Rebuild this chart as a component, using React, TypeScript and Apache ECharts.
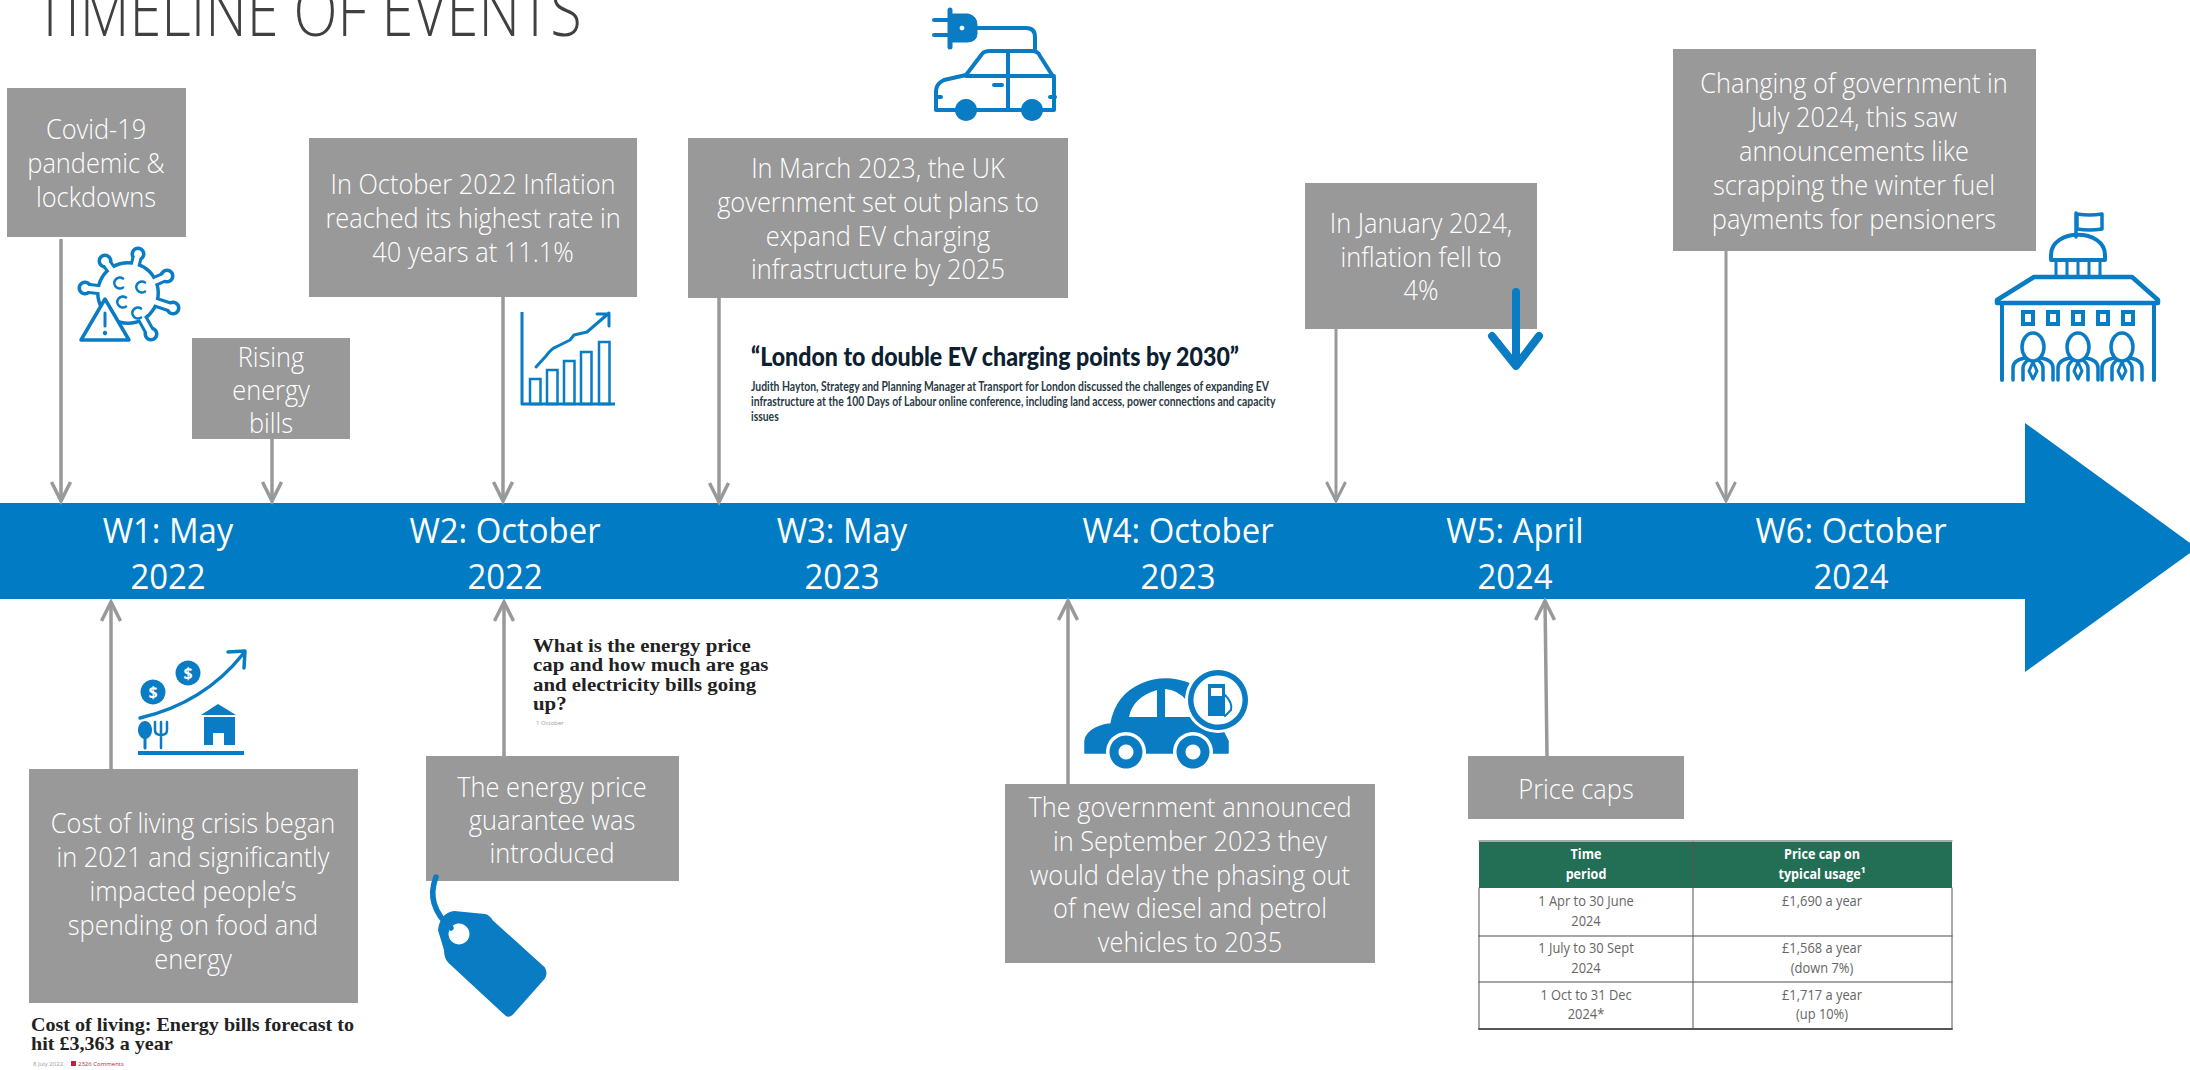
import React, { useEffect, useRef } from "react";
import * as echarts from "echarts";

const titleText = "TIMELINE OF EVENTS";
const waveLabels = [
  ["W1: May", "2022"],
  ["W2: October", "2022"],
  ["W3: May", "2023"],
  ["W4: October", "2023"],
  ["W5: April", "2024"],
  ["W6: October", "2024"],
];
const covidLines = ["Covid-19", "pandemic &", "lockdowns"];
const risingLines = ["Rising", "energy", "bills"];
const inflationLines = ["In October 2022 Inflation", "reached its highest rate in", "40 years at 11.1%"];
const evLines = ["In March 2023, the UK", "government set out plans to", "expand EV charging", "infrastructure by 2025"];
const januaryLines = ["In January 2024,", "inflation fell to", "4%"];
const changeLines = ["Changing of government in", "July 2024, this saw", "announcements like", "scrapping the winter fuel", "payments for pensioners"];
const costLines = ["Cost of living crisis began", "in 2021 and significantly", "impacted people’s", "spending on food and", "energy"];
const guaranteeLines = ["The energy price", "guarantee was", "introduced"];
const delayLines = ["The government announced", "in September 2023 they", "would delay the phasing out", "of new diesel and petrol", "vehicles to 2035"];
const priceCapLines = ["Price caps"];
const costHeadline = ["Cost of living: Energy bills forecast to", "hit £3,363 a year"];
const costDate = "8 July 2022 ·";
const costComments = "2326 Comments";
const capHeadline = ["What is the energy price", "cap and how much are gas", "and electricity bills going", "up?"];
const capDate = "1 October";
const londonQuote = "“London to double EV charging points by 2030”";
const londonBody = [
  "Judith Hayton, Strategy and Planning Manager at Transport for London discussed the challenges of expanding EV",
  "infrastructure at the 100 Days of Labour online conference, including land access, power connections and capacity",
  "issues",
];
const tableHeaderLeft = ["Time", "period"];
const tableHeaderRight = ["Price cap on", "typical usage¹"];
const tableLeft = [["1 Apr to 30 June", "2024"], ["1 July to 30 Sept", "2024"], ["1 Oct to 31 Dec", "2024*"]];
const tableRight = [["£1,690 a year"], ["£1,568 a year", "(down 7%)"], ["£1,717 a year", "(up 10%)"]];

const BLUE = "#0A7CC4";
const BAND = "#007BC4";
const GREY = "#999999";
const SANS = "'Open Sans'";

let shapeId = 0;
function path(d: string, style: any, z = 5) {
  const name = "ic" + shapeId++;
  echarts.graphic.registerShape(name, echarts.graphic.extendPath(d, {}));
  return { type: name, z, style: { fill: "none", stroke: BLUE, lineWidth: 3.5, lineCap: "round", lineJoin: "round", ...style } };
}
function text(t: string, x: number, y: number, o: any = {}) {
  const { k = 1, size = 25, weight = 300, color = "#fff", font = SANS, align = "center", z = 10 } = o;
  return {
    type: "text", x, y, scaleX: k, z,
    style: { text: t, x: 0, y: 0, fill: color, font: `${weight} ${size}px ${font}`, align, verticalAlign: "middle", textAlign: align, textVerticalAlign: "middle" },
  };
}
function lines(arr: string[], cx: number, ys: number[], o: any = {}) {
  return arr.map((t, i) => text(t, cx, ys[i], o));
}
function box(x0: number, y0: number, x1: number, y1: number) {
  return { type: "rect", z: 3, shape: { x: x0, y: y0, width: x1 - x0, height: y1 - y0 }, style: { fill: GREY } };
}
function arrow(x0: number, y0: number, x1: number, y1: number, w = 3.5) {
  const dir = y1 > y0 ? -1 : 1;
  const st = { stroke: GREY, lineWidth: w, fill: "none" };
  return [
    { type: "line", z: 2, shape: { x1: x0, y1: y0, x2: x1, y2: y1 }, style: st },
    { type: "polyline", z: 2, shape: { points: [[x1 - 9.5, y1 + dir * 19], [x1, y1], [x1 + 9.5, y1 + dir * 19]] }, style: st },
  ];
}
const ln = (x1: number, y1: number, x2: number, y2: number, stroke = BLUE, lineWidth = 3.5, z = 5) => ({
  type: "line", z, shape: { x1, y1, x2, y2 }, style: { stroke, lineWidth, lineCap: "round" },
});
const circ = (cx: number, cy: number, r: number, fill: string, z = 5, extra: any = {}) => ({
  type: "circle", z, shape: { cx, cy, r }, style: { fill, ...extra },
});
const ell = (cx: number, cy: number, rx: number, ry: number, style: any, z = 5) => ({
  type: "ellipse", z, shape: { cx, cy, rx, ry }, style,
});
const rct = (x: number, y: number, width: number, height: number, fill: string, z = 5) => ({
  type: "rect", z, shape: { x, y, width, height }, style: { fill },
});

function covidIcon() {
  const c = [128, 293];
  const ends = [[138, 254], [105, 261], [167, 276], [173, 308], [151, 334], [85, 288]];
  const out: any[] = [];
  ends.forEach(([x, y]) => {
    out.push(ln(c[0], c[1], x, y, BLUE, 11, 5), circ(x, y, 7.5, BLUE, 5));
  });
  out.push(circ(c[0], c[1], 32, BLUE, 5));
  ends.forEach(([x, y]) => {
    out.push(ln(c[0], c[1], x, y, "#fff", 5, 6), circ(x, y, 4, "#fff", 6));
  });
  out.push(circ(c[0], c[1], 28.5, "#fff", 6));
  [[120, 283], [142, 287], [123, 302], [138, 313]].forEach(([x, y]) => {
    out.push({ ...path(`M${x + 3},${y - 4.5}A5.5 5.5 0 1 0 ${x + 3},${y + 4.5}`, { lineWidth: 2.6 }), z: 7 });
  });
  out.push({ type: "polygon", z: 8, shape: { points: [[81, 340], [105, 299], [129, 340]] }, style: { fill: "#fff", stroke: BLUE, lineWidth: 3.5, lineJoin: "round" } });
  out.push(ln(105, 313, 105, 326, BLUE, 3, 9), circ(105, 333, 2.2, BLUE, 9));
  return out;
}
function growthIcon() {
  const out: any[] = [path("M522,312V404H615", { lineWidth: 3, lineCap: "butt" })];
  [[530, 379], [547, 370], [564, 361], [581, 352], [599, 342]].forEach(([x, y]) => {
    out.push({ type: "rect", z: 5, shape: { x, y, width: 10.5, height: 404 - y }, style: { fill: "none", stroke: BLUE, lineWidth: 2.5 } });
  });
  out.push(path("M536,367L546,356Q552,348 556,347L570,340L574,335L587,332L609,313M597,314H609V326", { lineWidth: 3 }));
  return out;
}
function evIcon() {
  return [
    path("M950,10V47", { lineWidth: 5 }),
    path("M934,20H950M934,35H950", { lineWidth: 4 }),
    path("M950,14H968Q977,16 977,25V34Q977,41 968,42H950Z", { fill: BLUE, lineWidth: 1 }),
    circ(962, 28, 2.4, "#fff", 6),
    path("M977,28H1026Q1035,28 1035,37V49", { lineWidth: 4 }),
    path("M936,110V91Q936,84 944,80L966,75L982,54Q984,51 990,51H1032Q1038,51 1040,56L1054,78V110H936", { lineWidth: 4 }),
    path("M966,76H1054M1008,51V110", { lineWidth: 4 }),
    path("M994,85H1002M936,97H941M1050,97H1055", { lineWidth: 4 }),
    circ(966, 110, 11, BLUE, 6),
    circ(1032, 110, 11, BLUE, 6),
  ];
}
function downIcon() {
  return [path("M1516,292V365M1492,336L1516,366L1539,336", { lineWidth: 8 }, 12)];
}
function govIcon() {
  const out: any[] = [
    path("M2076,237V213", { lineWidth: 3.5 }),
    path("M2077,214Q2090,216 2102,214V229Q2090,231 2077,229Z", { lineWidth: 3.5 }),
    path("M2051,260V255C2051,228 2105,228 2105,255V260Z", { lineWidth: 4 }),
    path("M2056,262V276M2067,262V276M2078,262V276M2089,262V276M2100,262V276", { lineWidth: 3 }),
    path("M2034,277H2132L2158,300V303H1997V300Z", { lineWidth: 4.5 }),
    path("M2002,303V380M2154,303V380", { lineWidth: 4 }),
  ];
  [2028, 2053, 2078, 2103, 2128].forEach((x) => {
    out.push({ type: "rect", z: 5, shape: { x: x - 5, y: 312, width: 10, height: 12 }, style: { fill: "none", stroke: BLUE, lineWidth: 4 } });
  });
  [2033, 2078, 2122].forEach((x) => {
    out.push(ell(x, 347, 11, 14, { fill: "none", stroke: BLUE, lineWidth: 3.5 }));
    out.push(path(`M${x - 20},380V368Q${x - 20},360 ${x - 8},358M${x + 20},380V368Q${x + 20},360 ${x + 8},358M${x - 10},380V368Q${x - 10},364 ${x - 5},360M${x + 10},380V368Q${x + 10},364 ${x + 5},360`, { lineWidth: 3.5 }));
    out.push(path(`M${x},362L${x + 4},371L${x},379L${x - 4},371Z`, { lineWidth: 3 }));
  });
  return out;
}
function livingIcon() {
  const out: any[] = [
    path("M140,718Q204,703 243,654M228,652L245,651L244,668", { lineWidth: 3.5 }),
    circ(153, 692, 12.5, BLUE),
    circ(188, 673, 12.5, BLUE),
    text("$", 153, 692, { size: 16, weight: 700, z: 6 }),
    text("$", 188, 673, { size: 16, weight: 700, z: 6 }),
    { type: "polygon", z: 5, shape: { points: [[201, 715], [218, 704], [236, 715]] }, style: { fill: BLUE } },
    rct(204, 717, 31, 28, BLUE),
    rct(213, 733, 11, 12, "#fff", 6),
    rct(138, 751, 106, 4, BLUE),
    ell(145, 730, 7, 9, { fill: BLUE }),
    ln(145, 735, 145, 748, BLUE, 3),
    path("M155,722V730Q155,735 161,735Q167,735 167,730V722M161,722V748", { lineWidth: 2.5 }),
  ];
  return out;
}
function tagIcon() {
  return [
    path("M454,912L485,915Q489,916 492,921L544,968Q547,973 544,978L512,1014Q508,1018 504,1013L449,962Q445,958 445,950L439,930Q441,914 454,912Z", { fill: BLUE, stroke: BLUE, lineWidth: 2 }),
    circ(459, 934, 10.5, "#fff", 6),
    path("M436,877Q425,905 451,928", { lineWidth: 5.5 }, 7),
  ];
}
function fuelIcon() {
  return [
    path("M1085,753V741Q1086,733 1096,728Q1105,724 1111,724Q1116,695 1142,684Q1165,674 1190,684L1205,722L1224,733L1228,741V753Z", { fill: BLUE, lineWidth: 1.5 }),
    path("M1129,717Q1133,697 1157,690V717Z", { fill: "#fff", stroke: "none" }, 6),
    path("M1165,689Q1178,690 1186,700L1192,717H1165Z", { fill: "#fff", stroke: "none" }, 6),
    circ(1218, 700, 33, "#fff", 7),
    circ(1218, 700, 30, BLUE, 8),
    circ(1218, 700, 24.5, "#fff", 9),
    rct(1208, 684, 17, 32, BLUE, 10),
    rct(1211, 688, 11, 8, "#fff", 11),
    path("M1225,695Q1233,703 1231,710L1225,716", { lineWidth: 2 }, 10),
    circ(1126, 752, 20, "#fff", 7),
    circ(1126, 752, 16.5, BLUE, 8),
    circ(1126, 752, 7.5, "#fff", 9),
    circ(1193, 752, 20, "#fff", 7),
    circ(1193, 752, 16.5, BLUE, 8),
    circ(1193, 752, 7.5, "#fff", 9),
  ];
}
function priceTable() {
  const cl = 1586, cr = 1822, tc = { size: 14, weight: 400, color: "#666", k: 0.92, font: "'Open Sans'" };
  const hc = { size: 14, weight: 700, color: "#fff", k: 0.9 };
  const out: any[] = [
    rct(1479, 842, 473, 46, "#236F56", 4),
    ...lines(tableHeaderLeft, cl, [854, 874], hc),
    ...lines(tableHeaderRight, cr, [854, 874], hc),
  ];
  const rowYs = [[901, 921], [948, 968], [995, 1014]];
  tableLeft.forEach((r, i) => out.push(...lines(r, cl, rowYs[i], tc)));
  tableRight.forEach((r, i) => out.push(...lines(r, cr, rowYs[i], tc)));
  const dark = "#555";
  out.push(
    ln(1479, 936, 1952, 936, "#888", 1.5, 4), ln(1479, 982, 1952, 982, "#888", 1.5, 4),
    ln(1479, 1029, 1952, 1029, dark, 1.8, 4), ln(1479, 841, 1952, 841, dark, 1.2, 4),
    ln(1479, 888, 1479, 1029, dark, 1, 4), ln(1952, 888, 1952, 1029, dark, 1, 4), ln(1693, 842, 1693, 1029, dark, 1, 4),
  );
  return out;
}

export default function App() {
  const ref = useRef<HTMLDivElement>(null);
  useEffect(() => {
    const chart = echarts.init(ref.current!, undefined, { renderer: "svg" });
    const waveX = [168, 505, 842, 1178, 1515, 1851];
    const bt = { k: 0.94, size: 27 };
    const serif = { size: 19.5, weight: 700, color: "#222", font: "'Liberation Serif'", align: "left" };
    const elements: any[] = [
      { type: "polygon", z: 1, shape: { points: [[0, 503], [2025, 503], [2025, 423], [2197, 548], [2025, 672], [2025, 599], [0, 599]] }, style: { fill: BAND } },
      { ...text(titleText, 35, 9, { size: 70, weight: 300, color: "#404040", align: "left", k: 0.823 }) },
      ...waveLabels.flatMap((w, i) => lines(w, waveX[i], [530, 576], { size: 35, weight: 400, k: 0.94 })),

      box(7, 88, 186, 237), box(192, 338, 350, 439), box(309, 138, 637, 297), box(688, 138, 1068, 298),
      box(1305, 183, 1537, 329), box(1673, 49, 2036, 251), box(29, 769, 358, 1003), box(426, 756, 679, 881),
      box(1005, 784, 1375, 963), box(1468, 756, 1684, 819),

      ...arrow(61, 239, 61, 501), ...arrow(272, 439, 272, 501), ...arrow(503, 297, 503, 501),
      ...arrow(719, 298, 719, 502), ...arrow(1336, 329, 1336, 501, 3), ...arrow(1726, 251, 1726, 501, 3),
      ...arrow(111, 769, 111, 602), ...arrow(504, 756, 504, 602), ...arrow(1068, 784, 1068, 601), ...arrow(1547, 756, 1545, 601),

      ...lines(covidLines, 96, [129, 163, 197], bt),
      ...lines(risingLines, 271, [357, 390, 423], bt),
      ...lines(inflationLines, 473, [184, 218, 252], bt),
      ...lines(evLines, 878, [168, 202, 236, 269], bt),
      ...lines(januaryLines, 1421, [223, 257, 290], bt),
      ...lines(changeLines, 1854, [83, 117, 151, 185, 219], bt),
      ...lines(costLines, 193, [823, 857, 891, 925, 959], bt),
      ...lines(guaranteeLines, 552, [787, 820, 853], bt),
      ...lines(delayLines, 1190, [807, 841, 875, 908, 942], bt),
      ...lines(priceCapLines, 1576, [789], bt),

      ...lines(costHeadline, 31, [1024, 1043], { ...serif, k: 1.03 }),
      text(costDate, 33, 1064, { size: 6, weight: 400, color: "#999", align: "left" }),
      rct(71, 1061, 5, 5, "#c0203a"),
      text(costComments, 78, 1064, { size: 6, weight: 400, color: "#c0203a", align: "left" }),
      ...lines(capHeadline, 533, [645, 664, 684, 703], { ...serif, k: 1.07 }),
      text(capDate, 536, 723, { size: 6, weight: 400, color: "#999", align: "left" }),
      text(londonQuote, 751, 355, { size: 27, weight: 900, color: "#0d2030", font: "Lato", align: "left", k: 0.858 }),
      ...lines(londonBody, 751, [386, 401, 416], { size: 12.3, weight: 700, color: "#2a3a44", font: "Lato", align: "left", k: 0.845 }),

      ...covidIcon(), ...growthIcon(), ...evIcon(), ...downIcon(), ...govIcon(), ...livingIcon(), ...tagIcon(), ...fuelIcon(),
      ...priceTable(),
    ];
    chart.setOption({ animation: false, graphic: { elements } });
    return () => chart.dispose();
  }, []);
  return <div ref={ref} style={{ position: "fixed", left: 0, top: 0, width: 2190, height: 1070, background: "#fff" }} />;
}
